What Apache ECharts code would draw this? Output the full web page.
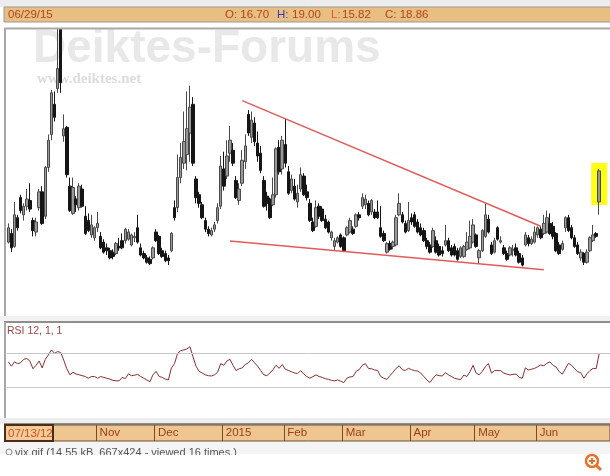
<!DOCTYPE html>
<html><head><meta charset="utf-8">
<script src="https://cdn.jsdelivr.net/npm/echarts/dist/echarts.min.js"></script>
<style>html,body{margin:0;padding:0;background:#fff}#c{width:610px;height:476px}</style>
</head><body><div id="c"></div>
<script>
// rows: [day, open, high, low, close]
const sep2014 = [[23,13.9,15.2,13.8,14.9],[24,14.5,14.8,13.2,13.5],[25,13.6,16.7,13.5,15.8],[26,15.6,15.8,14.7,14.9],[29,17.0,17.2,15.9,16.1],[30,15.8,16.6,15.4,16.4]];
const oct2014 = [[1,16.4,17.6,16.1,16.9],[2,16.8,18.0,16.0,16.2],[3,15.4,15.6,14.3,14.7],[6,14.6,15.6,14.3,15.3],[7,16.3,17.6,16.1,17.4],
 [8,17.4,17.8,15.1,15.2],[9,15.7,19.2,15.5,19.1],[10,19.1,21.4,18.8,21.0],[13,21.4,24.5,21.0,24.3],[14,23.5,24.4,22.3,22.6],
 [15,24.6,31.1,24.3,26.0],[16,29.5,29.8,24.3,25.0],[17,21.3,22.8,20.9,21.8],[20,21.9,22.0,18.4,18.6],[21,17.8,18.4,16.0,16.1],
 [22,15.9,18.4,15.8,17.7],[23,16.9,17.1,16.0,16.5],[24,16.3,18.0,16.1,17.8],[27,17.6,17.9,16.3,16.4],[28,15.7,16.4,14.4,14.5],
 [29,15.4,15.9,14.6,14.7],[30,14.4,15.8,14.2,15.1],[31,14.2,15.0,14.0,14.9]];
const nov2014 = [[3,14.9,16.0,14.6,15.2],[4,14.3,14.6,13.4,13.5],[5,13.9,14.1,13.1,13.2],[6,13.5,13.8,13.0,13.3],[7,13.3,13.5,12.7,12.8],
 [10,13.2,13.4,12.7,12.9],[11,13.1,13.9,13.0,13.8],[12,13.6,14.2,13.3,13.5],[13,14.0,14.5,13.4,13.5],[14,14.0,14.9,13.8,14.8],
 [17,14.1,14.8,14.0,14.6],[18,13.7,14.5,13.6,14.4],[19,14.2,14.6,13.9,14.3],[20,14.9,15.8,13.8,13.9],[21,13.5,13.8,12.9,13.0],
 [24,13.1,13.3,12.7,12.8],[25,12.8,13.0,12.4,12.5],[26,12.7,12.9,12.3,12.4],[28,12.8,13.6,12.7,13.5]];
const dec2014 = [[1,14.6,14.8,13.9,14.0],[2,14.3,14.4,13.0,13.1],[3,13.3,13.5,12.8,12.9],[4,13.1,13.3,12.5,12.6],[5,12.8,13.0,12.3,12.6],
 [8,13.3,14.6,13.2,14.5],[9,16.3,16.8,15.4,15.6],[10,16.3,20.0,16.0,18.4],[11,18.4,20.8,18.0,19.8],[12,19.4,23.0,19.0,20.9],
 [15,20.0,24.4,18.9,21.8],[16,21.5,24.8,19.5,23.3],[17,23.5,24.0,19.2,19.4],[18,18.3,18.5,16.6,17.0],[19,17.2,17.4,16.3,16.6],
 [22,16.5,16.7,15.5,15.6],[23,15.4,15.6,14.6,14.8],[24,14.8,15.0,14.3,14.5],[26,14.4,14.9,14.3,14.7],[29,14.8,15.3,14.6,15.1],
 [30,15.4,16.6,15.2,16.3],[31,16.4,19.9,16.2,19.2]];
const jan2015 = [[2,19.0,20.2,17.5,17.8],[5,18.5,21.0,18.3,19.9],[6,20.1,22.0,19.5,21.0],[7,20.3,20.8,19.2,19.4],[8,18.2,18.5,16.9,17.0],
 [9,16.8,18.0,16.5,17.6],[12,18.0,20.3,17.8,19.6],[13,19.5,21.4,19.0,20.6],[14,22.8,23.1,21.3,21.5],[15,21.2,23.0,20.8,22.4],
 [16,22.2,22.6,20.6,20.9],[20,20.8,21.6,19.5,19.9],[21,20.1,20.6,18.7,18.9],[22,18.2,18.5,16.3,16.4],[23,17.1,17.4,16.1,16.6],
 [26,16.9,17.0,15.5,15.6],[27,16.5,18.4,16.4,17.2],[28,17.2,20.5,17.0,20.4],[29,20.5,21.0,18.6,18.8],[30,19.0,21.3,18.6,21.0]];
const feb2015 = [[2,20.7,22.5,19.1,19.4],[3,18.8,19.2,17.2,17.3],[4,17.5,18.6,17.3,18.3],[5,17.8,18.3,16.8,16.9],[6,16.7,17.9,16.3,17.3],
 [9,17.6,19.1,17.4,18.6],[10,18.5,18.7,17.1,17.2],[11,17.4,17.9,16.8,17.0],[12,16.6,16.9,15.3,15.4],[13,15.3,15.6,14.6,14.7],
 [17,15.0,16.8,14.9,16.3],[18,16.4,16.6,15.5,15.7],[19,16.2,16.4,15.3,15.4],[20,15.5,15.8,14.8,14.9],[23,15.3,15.4,14.5,14.6],
 [24,14.2,14.7,14.0,14.6],[25,13.6,14.2,13.3,14.0],[26,13.9,14.3,13.8,14.2],[27,14.4,14.5,13.5,13.6]];
const mar2015 = [[2,14.2,14.3,13.2,13.3],[3,14.4,15.0,14.3,14.9],[4,14.6,15.6,14.5,15.4],[5,14.8,15.0,14.4,14.5],[6,15.0,15.9,14.9,15.8],
 [9,15.8,16.0,15.4,15.6],[10,16.4,17.3,16.2,17.0],[11,16.5,17.2,16.2,16.9],[12,16.6,16.8,15.7,15.8],[13,16.0,16.9,15.8,16.8],
 [16,16.0,16.2,15.5,15.6],[17,16.0,16.8,15.5,15.6],[18,14.9,16.4,14.2,14.3],[19,14.5,14.7,13.9,14.0],[20,13.2,13.9,13.1,13.8],
 [23,13.8,14.0,13.3,13.4],[24,13.6,14.0,13.4,13.9],[25,13.7,15.8,13.6,15.6],[26,15.8,17.3,15.7,16.6],[27,15.8,16.0,15.2,15.3],
 [30,15.2,15.4,14.5,14.6],[31,14.7,16.7,14.6,15.4]];
const apr2015 = [[1,15.6,15.9,15.1,15.3],[2,15.8,16.0,14.9,15.0],[6,15.3,15.5,14.5,14.6],[7,14.9,15.2,14.3,14.4],[8,14.7,14.9,13.9,14.0],
 [9,14.0,14.2,13.4,13.6],[10,13.7,13.9,13.1,13.2],[13,13.6,14.9,13.5,14.7],[14,14.0,14.3,13.1,13.2],[15,13.6,13.8,12.9,13.0],
 [16,13.3,13.6,12.9,13.1],[17,13.7,15.1,13.6,14.0],[20,14.0,14.2,13.2,13.3],[21,13.5,13.7,12.9,13.0],[22,13.6,13.8,12.9,13.0],
 [23,13.3,13.5,12.6,12.7],[24,12.9,13.6,12.8,13.5],[27,12.9,13.7,12.8,13.6],[28,13.4,14.6,13.3,13.9],[29,13.5,15.4,13.4,14.3],
 [30,13.9,15.5,13.8,15.1]];
const may2015 = [[1,14.4,14.5,13.5,13.6],[4,12.8,13.4,12.4,13.3],[5,13.3,14.8,13.2,14.7],[6,14.3,16.6,14.2,15.8],[7,15.5,15.8,14.5,14.6],
 [8,13.7,13.9,13.0,13.1],[11,13.2,14.2,13.1,14.0],[12,14.9,15.0,14.0,14.1],[13,13.9,14.3,13.8,14.0],[14,13.5,13.7,13.0,13.1],
 [15,13.1,13.3,12.6,12.7],[18,13.0,13.6,12.9,13.5],[19,13.3,13.7,12.9,13.4],[20,13.5,13.8,12.9,13.0],[21,13.1,13.3,12.4,12.5],
 [22,12.8,13.0,12.2,12.3],[26,13.7,14.6,13.6,14.4],[27,14.2,14.4,13.6,13.8],[28,13.8,14.3,13.7,14.1],[29,13.9,15.0,13.8,14.6]];
const jun2015 = [[1,14.4,15.0,14.2,14.9],[2,14.8,15.0,14.1,14.2],[3,14.5,15.8,14.4,15.2],[4,14.6,16.1,14.5,15.6],[5,15.2,15.9,14.4,14.5],
 [8,15.0,15.3,14.1,14.3],[9,14.5,14.6,13.2,13.3],[10,13.7,13.9,13.0,13.1],[11,13.4,14.0,13.3,13.8],[12,14.9,15.7,14.6,15.6],
 [15,15.6,15.8,14.6,14.7],[16,14.9,15.1,14.1,14.2],[17,14.2,14.4,13.5,13.6],[18,13.7,13.9,13.0,13.1],[19,12.8,13.4,12.6,13.2],
 [22,13.1,13.2,12.3,12.5],[23,12.5,13.4,12.4,13.2],[24,13.3,14.3,13.2,14.2],[25,14.0,15.1,13.9,14.4],[26,14.5,14.6,14.2,14.3],
 [29,16.70,19.00,15.82,18.86]];

// RSI 12 values, one per trading day
const rsiSep2014 = [60,55,60,58,59,63];
const rsiOct2014 = [64,61,52,56,61,53,63,68,74,70,72,71,62,52,45,48,46,45,44,43,41,43,43];
const rsiNov2014 = [41,43,42,41,40,38.5,38,38,42,40.5,46,44,44.5,45.5,43,41,39,37,45];
const rsiDec2014 = [49,43,42,40,39,53,58,70,73,74,75,77.7,66,55,49,47,45,44,43.6,45,48,58];
const rsiJan2015 = [56,61,63,56,50,52,53,57,59,63,59,55,50,45,44,47,51,56,52.5,57];
const rsiFeb2015 = [51.5,50,48.6,47,46.6,49.8,46,43,41,43,44.8,43,42,40.5,39.7,38.5,38,39,37.5];
const rsiMar2015 = [36,41,42.5,43,49,51,56,58,52.5,52,50.6,50,43,41,39.7,44,48,52.5,55.5,51,50,52.5];
const rsiApr2015 = [51,49.8,49.4,47,43,39,36,41,45,44,43.6,47.5,45,43,41,40,39.5,44.8,43,48.6,56];
const rsiMay2015 = [47,45,49,54.4,58,47,49.8,50,49.8,47,45.8,44.8,45.5,45.8,42,41,53,50.6,51.5,52.5];
const rsiJun2015 = [54.4,56.4,55.5,58.4,60,56,54,48.6,45.8,52,58.4,56,52,48.6,47.5,41,46,50,52.5,52,70];

const rsiLevels = [70, 30];
const tickDates = ['2014-11-03','2014-12-01','2015-01-02','2015-02-02','2015-03-02','2015-04-01','2015-05-01','2015-06-01'];
const tickLabels = ['Nov','Dec','2015','Feb','Mar','Apr','May','Jun'];
const trendUpper = [['2015-01-12', 23.76], ['2015-06-02', 15.0]];
const trendLower = [['2015-01-06', 13.98], ['2015-06-03', 11.97]];
const highlightDate = '2015-06-29';
const highlightCenter = 17.95;
const headerDate = '06/29/15';
const headerO = '16.70', headerH = '19.00', headerL = '15.82', headerC = '18.86';

const monthsDef = [
  [2014,9,sep2014,rsiSep2014],[2014,10,oct2014,rsiOct2014],[2014,11,nov2014,rsiNov2014],[2014,12,dec2014,rsiDec2014],
  [2015,1,jan2015,rsiJan2015],[2015,2,feb2015,rsiFeb2015],[2015,3,mar2015,rsiMar2015],[2015,4,apr2015,rsiApr2015],
  [2015,5,may2015,rsiMay2015],[2015,6,jun2015,rsiJun2015]
];
const dates = [], ohlc = [], rsi = [];
const p2 = n => String(n).padStart(2,'0');
monthsDef.forEach(([y,m,rows,r]) => rows.forEach((row,k) => {
  dates.push(y + '-' + p2(m) + '-' + p2(row[0]));
  ohlc.push([row[1], row[4], row[3], row[2]]);
  rsi.push(r[k]);
}));
const cats = dates.concat(['_a','_b','_c']);
const tickSet = new Set(tickDates.map(d => cats.indexOf(d)));
const labelOf = {}; tickDates.forEach((d,i) => labelOf[d] = tickLabels[i]);

const FONT = 'Liberation Sans, Arial, sans-serif';
const GL = 6.8, GR = -3.2;
const chart = echarts.init(document.getElementById('c'), null, {renderer: 'canvas'});
chart.setOption({
  backgroundColor: '#ffffff',
  animation: false,
  grid: [
    {left: GL, right: GR, top: 29, height: 287},
    {left: GL, right: GR, top: 327.5, height: 86},
    {left: GL, right: GR, top: 425, height: 16, show: true, backgroundColor: '#efc690', borderColor: '#6a4a30', borderWidth: 1, z: 0}
  ],
  xAxis: [
    {gridIndex: 0, type: 'category', data: cats, show: false},
    {gridIndex: 1, type: 'category', data: cats, show: false},
    {gridIndex: 2, type: 'category', data: cats, position: 'bottom', z: 3,
      axisLine: {show: false}, axisTick: {show: false},
      splitLine: {show: true, interval: i => tickSet.has(i), lineStyle: {color: '#7a4a2a', width: 1}},
      axisLabel: {show: true, inside: true, interval: i => tickSet.has(i), formatter: v => labelOf[v] || '',
        align: 'left', margin: 2, padding: [0,0,0,2], color: '#9a3d1c', fontSize: 11.5, fontFamily: FONT}}
  ],
  yAxis: [
    {gridIndex: 0, type: 'value', min: 8.75, max: 28.75, show: false},
    {gridIndex: 1, type: 'value', min: 0, max: 100, show: false},
    {gridIndex: 2, type: 'value', show: false}
  ],
  series: [
    {type: 'scatter', xAxisIndex: 0, yAxisIndex: 0, z: 1, silent: true,
      symbol: 'rect', symbolSize: [16, 42], data: [[highlightDate, highlightCenter]],
      itemStyle: {color: '#ffff14', opacity: 1}},
    {type: 'candlestick', xAxisIndex: 0, yAxisIndex: 0, z: 2, data: ohlc, barWidth: 3, clip: true,
      itemStyle: {color: '#999999', color0: '#151515', borderColor: '#4a4a4a', borderColor0: '#151515', borderWidth: 1},
      markLine: {silent: true, symbol: ['none','none'], label: {show: false},
        lineStyle: {color: '#e25b5b', width: 1.5, type: 'solid'},
        data: [
          [{coord: trendUpper[0]}, {coord: trendUpper[1]}],
          [{coord: trendLower[0]}, {coord: trendLower[1]}]
        ]}},
    {type: 'line', xAxisIndex: 1, yAxisIndex: 1, data: rsi, showSymbol: false, symbol: 'none',
      lineStyle: {color: '#8a2f2f', width: 1}, z: 3,
      markLine: {silent: true, symbol: ['none','none'], label: {show: false},
        lineStyle: {color: '#c8c8c8', width: 1, type: 'solid'},
        data: rsiLevels.map(v => ({yAxis: v}))}}
  ],
  graphic: [
    // cover above the price panel, top strip and header bar
    {type: 'rect', z: 20, shape: {x: 0, y: 0, width: 610, height: 28}, style: {fill: '#ffffff'}},
    {type: 'rect', z: 21, shape: {x: 0, y: 0, width: 610, height: 7}, style: {fill: '#ececec'}},
    {type: 'rect', z: 21, shape: {x: 4, y: 7, width: 610, height: 15}, style: {fill: '#e9be82', stroke: '#9a9a9a', lineWidth: 1}},
    {type: 'text', z: 22, x: 8, y: 15, style: {text: headerDate, fill: '#b0451f', font: '11.5px ' + FONT, textVerticalAlign: 'middle'}},
    {type: 'text', z: 22, x: 225, y: 15, style: {text: 'O: ' + headerO, fill: '#b0451f', font: '11.5px ' + FONT, textVerticalAlign: 'middle'}},
    {type: 'text', z: 22, x: 277, y: 15, style: {text: 'H:', fill: '#3b3bb0', font: '11.5px ' + FONT, textVerticalAlign: 'middle'}},
    {type: 'text', z: 22, x: 292, y: 15, style: {text: headerH, fill: '#b0451f', font: '11.5px ' + FONT, textVerticalAlign: 'middle'}},
    {type: 'text', z: 22, x: 331, y: 15, style: {text: 'L:', fill: '#e8532b', font: '11.5px ' + FONT, textVerticalAlign: 'middle'}},
    {type: 'text', z: 22, x: 342, y: 15, style: {text: headerL, fill: '#b0451f', font: '11.5px ' + FONT, textVerticalAlign: 'middle'}},
    {type: 'text', z: 22, x: 385, y: 15, style: {text: 'C: ' + headerC, fill: '#b0451f', font: '11.5px ' + FONT, textVerticalAlign: 'middle'}},
    // main panel borders
    {type: 'line', z: 22, shape: {x1: 4, y1: 28.5, x2: 610, y2: 28.5}, style: {stroke: '#a8a8a8', lineWidth: 2}},
    {type: 'line', z: 22, shape: {x1: 5, y1: 28, x2: 5, y2: 316}, style: {stroke: '#a8a8a8', lineWidth: 2}},
    // watermark
    {type: 'text', z: 0, x: 33, y: 72, style: {text: 'Deiktes-Forums', fill: '#e8e8e8', font: 'bold 46px ' + FONT, textVerticalAlign: 'bottom'}},
    {type: 'text', z: 0, x: 37, y: 87, style: {text: 'www.deiktes.net', fill: '#dcdcdc', font: 'bold 15px Liberation Serif, serif', textVerticalAlign: 'bottom'}},
    // separator between panels
    {type: 'rect', z: 5, shape: {x: 0, y: 316, width: 610, height: 5}, style: {fill: '#f2f2f2'}},
    {type: 'line', z: 5, shape: {x1: 4, y1: 322, x2: 610, y2: 322}, style: {stroke: '#8e8e8e', lineWidth: 2}},
    {type: 'line', z: 5, shape: {x1: 5, y1: 322, x2: 5, y2: 418}, style: {stroke: '#a8a8a8', lineWidth: 2}},
    {type: 'text', z: 5, x: 7, y: 331.5, style: {text: 'RSI 12, 1, 1', fill: '#a04545', font: '10.5px ' + FONT, textVerticalAlign: 'middle'}},
    // band below RSI
    {type: 'rect', z: 5, shape: {x: 0, y: 418, width: 610, height: 6}, style: {fill: '#eeeeee'}},
    {type: 'line', z: 5, shape: {x1: 4, y1: 424, x2: 610, y2: 424}, style: {stroke: '#6a6a6a', lineWidth: 1.5}},
    // date box
    {type: 'rect', z: 6, shape: {x: 5, y: 425, width: 48, height: 16}, style: {fill: '#f2cb98', stroke: '#4a2c1a', lineWidth: 2}},
    {type: 'text', z: 7, x: 8, y: 433.5, style: {text: '07/13/12', fill: '#d4501c', font: '11.5px ' + FONT, textVerticalAlign: 'middle'}},
    // footer
    {type: 'rect', z: 5, shape: {x: 0, y: 442, width: 610, height: 12}, style: {fill: '#f4f4f4'}},
    {type: 'circle', z: 6, shape: {cx: 9, cy: 452, r: 3}, style: {fill: 'none', stroke: '#888', lineWidth: 1}},
    {type: 'text', z: 6, x: 15, y: 447, style: {text: 'vix.gif (14.55 kB, 667x424 - viewed 16 times.)', fill: '#555', font: '11px ' + FONT, textVerticalAlign: 'top'}},
    {type: 'rect', z: 7, shape: {x: 0, y: 455, width: 610, height: 21}, style: {fill: '#ffffff'}},
    // zoom icon
    {type: 'circle', z: 8, shape: {cx: 592, cy: 461, r: 6}, style: {fill: '#fff', stroke: '#e8702a', lineWidth: 2.5}},
    {type: 'line', z: 8, shape: {x1: 596.5, y1: 465.5, x2: 601, y2: 470}, style: {stroke: '#e8702a', lineWidth: 3}},
    {type: 'line', z: 8, shape: {x1: 589, y1: 461, x2: 595, y2: 461}, style: {stroke: '#e8702a', lineWidth: 2}},
    {type: 'line', z: 8, shape: {x1: 592, y1: 458, x2: 592, y2: 464}, style: {stroke: '#e8702a', lineWidth: 2}}
  ]
});
</script></body></html>
